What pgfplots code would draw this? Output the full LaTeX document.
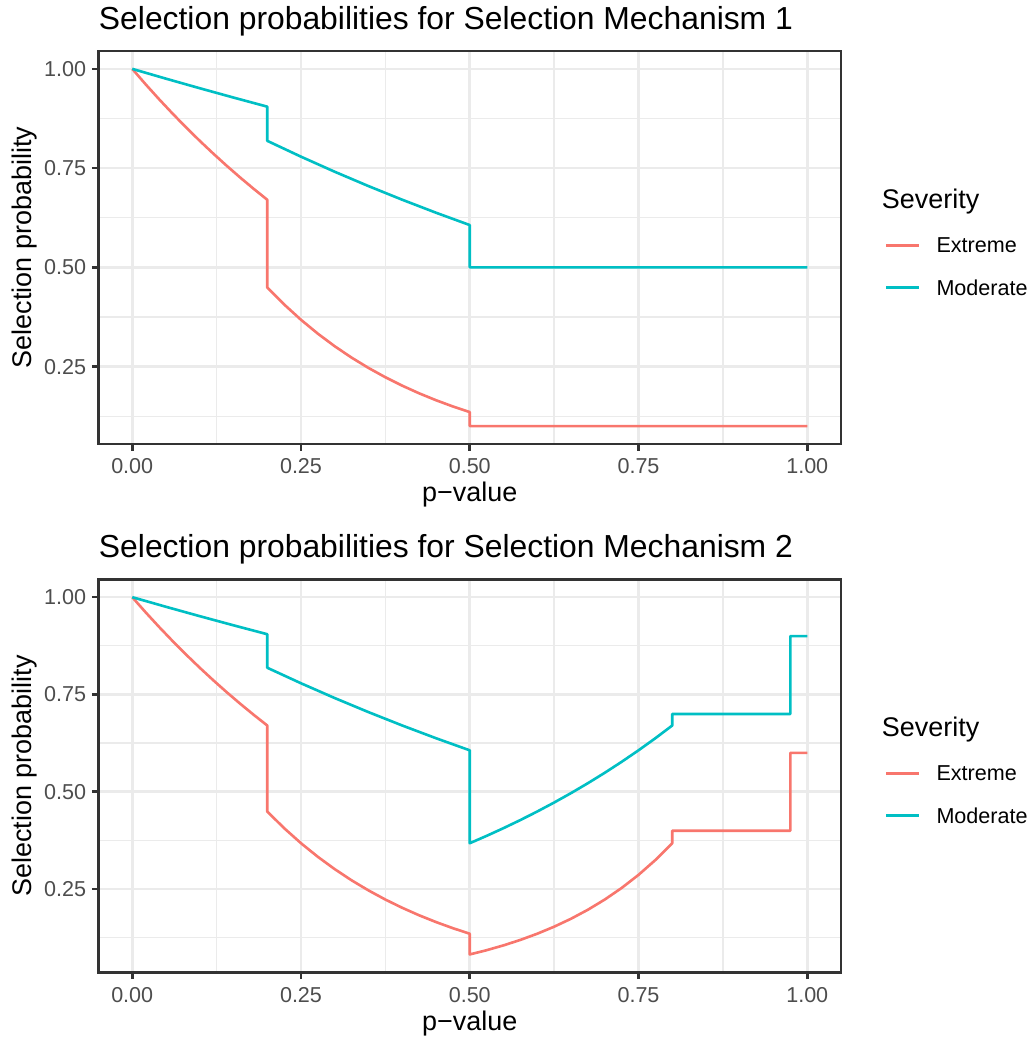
\documentclass[border=0pt]{standalone}
\usepackage{fontspec}
\setmainfont{Liberation Sans}
\usepackage{pgfplots}
\pgfplotsset{compat=1.18}
\definecolor{extreme}{HTML}{F8766D}
\definecolor{moderate}{HTML}{00BFC4}
\definecolor{grey92}{HTML}{EBEBEB}
\definecolor{grey20}{HTML}{333333}
\definecolor{grey30}{HTML}{4D4D4D}
\pgfplotsset{
  panel/.style={
    scale only axis, width=303.06pt, height=160.4pt,
    xmin=-0.05, xmax=1.05,
    xtick={0,0.25,0.5,0.75,1}, xticklabels={0.00,0.25,0.50,0.75,1.00},
    ytick={0.25,0.5,0.75,1}, yticklabels={0.25,0.50,0.75,1.00},
    minor xtick={0.125,0.375,0.625,0.875},
    minor ytick={0.125,0.375,0.625,0.875},
    grid=both,
    major grid style={color=grey92, line width=1.07pt},
    minor grid style={color=grey92, line width=0.53pt},
    axis line style={color=grey20, line width=1.07pt},
    tick align=outside, major tick length=2.75pt, minor tick length=0pt,
    every tick/.style={color=grey20, line width=1.07pt},
    xtick pos=bottom, ytick pos=left,
    tick label style={font=\fontsize{8.8}{10}\selectfont, text=grey30, inner sep=0pt},
    xticklabel style={anchor=north, inner sep=0pt, yshift=-3.15pt},
    yticklabel style={anchor=east, inner sep=0pt, xshift=-2.11pt},
    every axis title/.style={at={(axis description cs:0,1.0552)}, anchor=base west, inner sep=0pt, font=\fontsize{13}{15}\selectfont},
    every axis x label/.style={at={(axis description cs:0.5,-0.1468)}, anchor=base, inner sep=0pt, font=\fontsize{11}{13}\selectfont},
    every axis y label/.style={at={(axis description cs:-0.08997,0.5)}, rotate=90, anchor=base, inner sep=0pt, font=\fontsize{11}{13}\selectfont},
    xlabel={p−value}, ylabel={Selection probability},
    every axis plot/.append style={line width=1.07pt, line join=round},
  }
}
\begin{document}
\begin{tikzpicture}
\begin{scope}[x=0.40816pt,y=-0.40816pt]
\useasboundingbox (0,0) rectangle (1034,1039);
\end{scope}
% ---------------- Panel 1 ----------------
\begin{axis}[panel, at={(40.20pt,-20.82pt)}, anchor=north west,
  ymin=0.055, ymax=1.045,
  title={Selection probabilities for Selection Mechanism 1}]
\addplot[color=extreme] coordinates {
 (0,1) (0.02,0.96079) (0.04,0.92312) (0.06,0.88692) (0.08,0.85214) (0.10,0.81873)
 (0.12,0.78663) (0.14,0.75578) (0.16,0.72615) (0.18,0.69768) (0.20,0.67032)
 (0.20,0.44933) (0.225,0.40657) (0.25,0.36788) (0.275,0.33287) (0.30,0.30119)
 (0.325,0.27253) (0.35,0.24660) (0.375,0.22313) (0.40,0.20190) (0.425,0.18268)
 (0.45,0.16530) (0.475,0.14957) (0.50,0.13534) (0.50,0.1) (1,0.1)};
\addplot[color=moderate] coordinates {
 (0,1) (0.05,0.97531) (0.10,0.95123) (0.15,0.92774) (0.20,0.90484)
 (0.20,0.81873) (0.25,0.77880) (0.30,0.74082) (0.35,0.70469) (0.40,0.67032)
 (0.45,0.63763) (0.50,0.60653) (0.50,0.5) (1,0.5)};
\end{axis}
% ---------------- Panel 2 ----------------
\begin{axis}[panel, at={(40.20pt,-236.45pt)}, anchor=north west,
  ymin=0.0362, ymax=1.0459,
  title={Selection probabilities for Selection Mechanism 2}]
\addplot[color=extreme] coordinates {
 (0,1) (0.02,0.96079) (0.04,0.92312) (0.06,0.88692) (0.08,0.85214) (0.10,0.81873)
 (0.12,0.78663) (0.14,0.75578) (0.16,0.72615) (0.18,0.69768) (0.20,0.67032)
 (0.20,0.44933) (0.225,0.40657) (0.25,0.36788) (0.275,0.33287) (0.30,0.30119)
 (0.325,0.27253) (0.35,0.24660) (0.375,0.22313) (0.40,0.20190) (0.425,0.18268)
 (0.45,0.16530) (0.475,0.14957) (0.50,0.13534)
 (0.50,0.08208) (0.525,0.09301) (0.55,0.10540) (0.575,0.11943) (0.60,0.13534)
 (0.625,0.15335) (0.65,0.17377) (0.675,0.19691) (0.70,0.22313) (0.725,0.25284)
 (0.75,0.28650) (0.775,0.32465) (0.80,0.36788)
 (0.80,0.4) (0.975,0.4) (0.975,0.6) (1,0.6)};
\addplot[color=moderate] coordinates {
 (0,1) (0.05,0.97531) (0.10,0.95123) (0.15,0.92774) (0.20,0.90484)
 (0.20,0.81873) (0.25,0.77880) (0.30,0.74082) (0.35,0.70469) (0.40,0.67032)
 (0.45,0.63763) (0.50,0.60653)
 (0.50,0.36788) (0.525,0.38674) (0.55,0.40657) (0.575,0.42741) (0.60,0.44933)
 (0.625,0.47237) (0.65,0.49659) (0.675,0.52205) (0.70,0.54881) (0.725,0.57695)
 (0.75,0.60653) (0.775,0.63763) (0.80,0.67032)
 (0.80,0.7) (0.975,0.7) (0.975,0.9) (1,0.9)};
\end{axis}
% ---------------- Legends ----------------
\begin{scope}[x=0.40816pt,y=-0.40816pt]
\foreach \dy in {0,528} {
  \node[anchor=base west, inner sep=0pt, font=\fontsize{11}{13}\selectfont] at (881.4,208.3+\dy) {Severity};
  \draw[extreme, line width=1.07pt] (886,245.5+\dy) -- (919.3,245.5+\dy);
  \draw[moderate, line width=1.07pt] (886,287.3+\dy) -- (919.3,287.3+\dy);
  \node[anchor=west, inner sep=0pt, font=\fontsize{8.8}{10}\selectfont] at (936,245.5+\dy) {Extreme};
  \node[anchor=west, inner sep=0pt, font=\fontsize{8.8}{10}\selectfont] at (936,287.3+\dy) {Moderate};
}
\end{scope}
\end{tikzpicture}
\end{document}
